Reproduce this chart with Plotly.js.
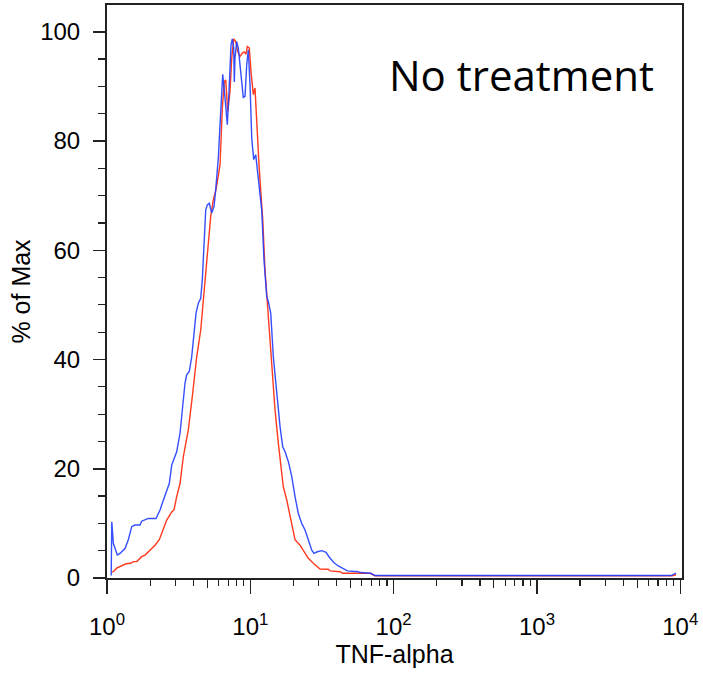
<!DOCTYPE html>
<html>
<head>
<meta charset="utf-8">
<script src="https://cdn.plot.ly/plotly-3.0.1.min.js"></script>
<style>html,body{margin:0;padding:0;background:#fff;}#chart{width:703px;height:674px;}</style>
</head>
<body>
<div id="chart"></div>
<script>
// Blue histogram (stained sample)
const blueX = [1.07, 1.08, 1.107, 1.18, 1.232, 1.335, 1.408, 1.487, 1.568, 1.699, 1.746, 1.842, 1.942, 2.198, 2.344, 2.499, 2.61, 2.72, 2.83, 2.935, 3.064, 3.232, 3.408, 3.502, 3.599, 3.752, 3.900, 4.047, 4.180, 4.337, 4.508, 4.624, 4.753, 4.884, 5.011, 5.175, 5.378, 5.581, 5.736, 5.980, 6.146, 6.418, 6.660, 6.911, 7.103, 7.334, 7.489, 7.660, 7.732, 7.820, 8.037, 8.247, 8.612, 8.937, 9.184, 9.438, 9.683, 9.952, 10.23, 10.56, 10.91, 11.26, 11.69, 12.01, 12.46, 13.02, 13.36, 13.88, 14.47, 15.29, 16.12, 16.83, 17.47, 18.42, 19.14, 19.45, 20.51, 21.63, 22.84, 24.08, 25.39, 26.82, 27.83, 29.35, 31.50, 33.76, 35.59, 38.37, 41.13, 44.14, 47.53, 56.72, 58.29, 69.22, 74.18, 8626, 9051, 9348];
const blueY = [0.45, 10.3, 6.35, 4.2, 4.5, 5.4, 7.0, 9.4, 9.7, 9.7, 10.4, 10.7, 10.9, 10.9, 12.45, 14.6, 16.1, 17.3, 20.7, 21.9, 23.1, 26.5, 32, 35.7, 37.2, 37.8, 40.5, 45.4, 48.5, 50.3, 51.2, 54.6, 61.9, 67.4, 68.3, 68.6, 66.8, 68, 71.1, 76.9, 83, 92.2, 87.9, 83, 89.1, 97.6, 98.7, 97, 90.8, 95.2, 98.2, 97, 92.1, 87.9, 88.2, 94, 96.7, 90.3, 80.5, 76.6, 77.5, 73.8, 70.1, 67.4, 58.2, 51.5, 50.6, 48.5, 40.5, 33.2, 27.7, 24, 23.1, 21.3, 19.5, 18.6, 14.9, 11.8, 10, 8.8, 7, 5.1, 4.5, 4.8, 5, 4.7, 3.8, 2.8, 2.2, 1.8, 1.3, 1.15, 1.0, 0.86, 0.45, 0.45, 0.7, 0.9];

// Red histogram (control)
const redX = [1.08, 1.107, 1.169, 1.266, 1.357, 1.463, 1.526, 1.612, 1.746, 1.842, 1.995, 2.163, 2.317, 2.471, 2.61, 2.83, 2.935, 3.064, 3.232, 3.408, 3.692, 3.938, 4.227, 4.508, 4.753, 5.043, 5.292, 5.518, 5.763, 6.146, 6.377, 6.587, 6.735, 6.956, 7.217, 7.418, 7.660, 7.909, 8.168, 8.477, 8.795, 9.082, 9.333, 9.531, 9.841, 10.11, 10.49, 10.78, 11.08, 11.50, 11.88, 12.21, 12.66, 13.36, 14.11, 14.87, 15.68, 16.38, 16.99, 17.95, 18.92, 20.51, 22.23, 23.70, 25.39, 27.52, 29.35, 30.64, 35.02, 35.99, 42.27, 44.14, 68.44, 74.18, 8800, 9348];
const redY = [1.1, 1.15, 1.8, 2.2, 2.6, 2.7, 3.0, 3.0, 3.9, 4.2, 5.1, 6.0, 7.0, 9.1, 10.6, 12.1, 12.5, 14.9, 17.3, 22.2, 27.1, 33.2, 40.5, 45.4, 52.7, 60.1, 66.2, 69.2, 71.1, 75.6, 86, 90.9, 91.2, 85.4, 89.1, 95.2, 98.7, 98.2, 96.4, 95.5, 96.1, 96.3, 95.9, 97.3, 97, 92.7, 88.5, 89.7, 83, 75.6, 70.1, 65.6, 56.4, 47.3, 38.1, 30.8, 24.7, 19.8, 16.7, 14.3, 11.2, 7.0, 6.0, 4.8, 3.6, 2.7, 2.1, 1.65, 1.6, 1.3, 1.15, 0.86, 0.86, 0.42, 0.42, 0.6];

// Axis ticks
const xMajorVals = [1, 10, 100, 1000, 10000];
const xMajorText = ['10<sup>0</sup>', '10<sup>1</sup>', '10<sup>2</sup>', '10<sup>3</sup>', '10<sup>4</sup>'];
const xFiveVals = [5, 50, 500, 5000];
const xMinorVals = [2, 3, 4, 6, 7, 8, 9, 20, 30, 40, 60, 70, 80, 90, 200, 300, 400, 600, 700, 800, 900, 2000, 3000, 4000, 6000, 7000, 8000, 9000];
const yMajorVals = [0, 20, 40, 60, 80, 100];

const font = 'Liberation Sans, Arial, sans-serif';
const axisColor = '#222';

const traces = [
  {x: redX, y: redY, type: 'scatter', mode: 'lines', line: {color: '#ff3a1e', width: 1.4}, hoverinfo: 'skip', showlegend: false},
  {x: blueX, y: blueY, type: 'scatter', mode: 'lines', line: {color: '#2440ff', width: 1.4}, opacity: 0.92, hoverinfo: 'skip', showlegend: false},
  {x: [1], y: [null], xaxis: 'x2', type: 'scatter', mode: 'lines', hoverinfo: 'skip', showlegend: false}
];

const layout = {
  width: 703, height: 674,
  margin: {l: 107, r: 21, t: 5, b: 96},
  paper_bgcolor: '#fff', plot_bgcolor: '#fff',
  font: {family: font, color: '#000', size: 24},
  xaxis: {
    type: 'log', range: [0, 4.012],
    showline: true, linecolor: axisColor, linewidth: 2, mirror: true,
    showgrid: false, zeroline: false,
    ticks: 'outside', ticklen: 14, tickwidth: 1.5, tickcolor: axisColor,
    ticklabelstandoff: 12,
    tickmode: 'array', tickvals: xMajorVals, ticktext: xMajorText,
    tickfont: {family: font, size: 24, color: '#000'},
    minor: {tickmode: 'array', tickvals: xMinorVals, ticks: 'outside', ticklen: 6, tickwidth: 1.2, tickcolor: axisColor, showgrid: false},
    title: {text: 'TNF-alpha', font: {family: font, size: 25, color: '#000'}, standoff: 4},
    automargin: false
  },
  xaxis2: {
    type: 'log', range: [0, 4.012], overlaying: 'x', anchor: 'y', side: 'bottom',
    showline: false, showgrid: false, zeroline: false,
    ticks: 'outside', ticklen: 9, tickwidth: 1.2, tickcolor: axisColor,
    tickmode: 'array', tickvals: xFiveVals, showticklabels: false
  },
  yaxis: {
    range: [0, 104.9],
    showline: true, linecolor: axisColor, linewidth: 2, mirror: true,
    showgrid: false, zeroline: false,
    ticks: 'outside', ticklen: 12, tickwidth: 1.5, tickcolor: axisColor,
    ticklabelstandoff: 8,
    tickmode: 'array', tickvals: yMajorVals,
    tickfont: {family: font, size: 24, color: '#000'},
    minor: {dtick: 5, ticks: 'outside', ticklen: 7, tickwidth: 1.2, tickcolor: axisColor, showgrid: false},
    title: {text: '% of Max', font: {family: font, size: 25, color: '#000'}, standoff: 2},
    automargin: false
  },
  annotations: [{
    text: 'No treatment', xref: 'paper', yref: 'paper', x: 0.72, y: 0.878,
    xanchor: 'center', yanchor: 'middle', showarrow: false,
    font: {family: 'Open Sans, sans-serif', size: 42, color: '#000'}
  }]
};

Plotly.newPlot('chart', traces, layout, {staticPlot: true, displayModeBar: false});
</script>
</body>
</html>
